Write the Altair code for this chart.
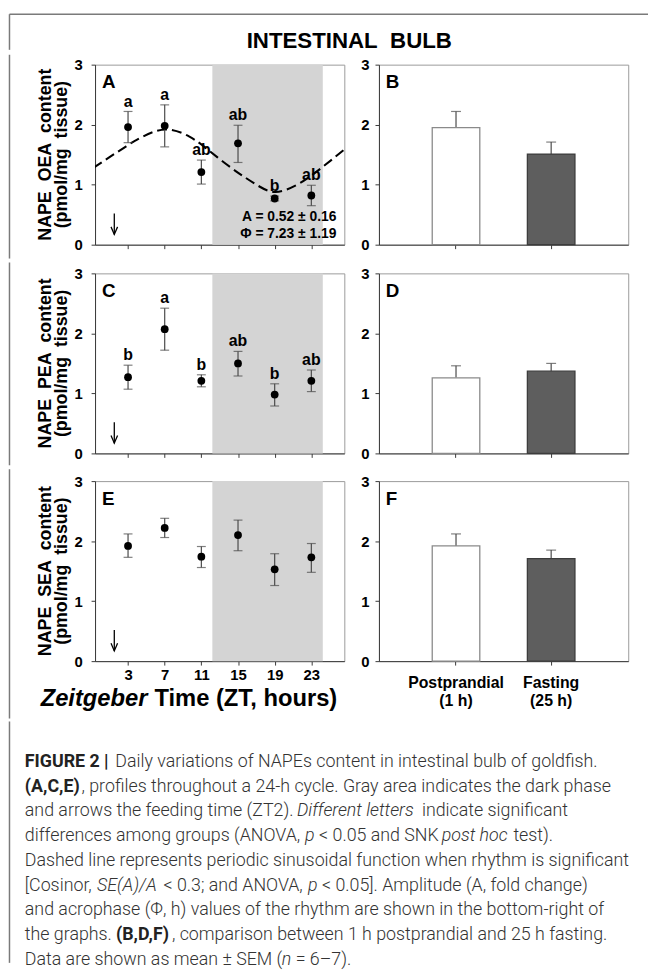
import altair as alt
import pandas as pd

# ---------------- data ----------------
zt_hours = [3, 7, 11, 15, 19, 23]
zt_ticks = [3, 7, 11, 15, 19, 23]
y_ticks = [0, 1, 2, 3]

oea_mean = [1.96, 1.98, 1.21, 1.69, 0.77, 0.82]
oea_upper = [2.22, 2.33, 1.41, 1.99, 0.81, 0.99]
oea_lower = [1.70, 1.63, 1.01, 1.37, 0.73, 0.65]
oea_letters = ["a", "a", "ab", "ab", "b", "ab"]

pea_mean = [1.27, 2.07, 1.21, 1.50, 0.98, 1.21]
pea_upper = [1.47, 2.42, 1.31, 1.70, 1.16, 1.39]
pea_lower = [1.07, 1.72, 1.11, 1.29, 0.79, 1.03]
pea_letters = ["b", "a", "b", "ab", "b", "ab"]

sea_mean = [1.92, 2.22, 1.74, 2.10, 1.53, 1.73]
sea_upper = [2.12, 2.38, 1.91, 2.35, 1.79, 1.96]
sea_lower = [1.73, 2.06, 1.56, 1.84, 1.26, 1.48]

# cosinor curve of panel A
cos_zt = [-0.8, 2.8, 4.6, 7.1, 9.7, 11.5, 13.3, 15.1, 16.9, 19.0, 21.2, 22.6, 24.1, 26.8]
cos_val = [1.28, 1.64, 1.80, 1.92, 1.80, 1.61, 1.39, 1.19, 1.01, 0.88, 0.98, 1.11, 1.28, 1.61]
cos_note = ["A = 0.52 \u00b1 0.16", "\u03a6 = 7.23 \u00b1 1.19"]

dark_start = [12.2]
dark_end = [24.25]
feed_zt = [1.5]
arrow_top = [0.52]
arrow_tip = [0.17]

groups = ["Postprandial|(1 h)", "Fasting|(25 h)"]
bar_oea = [1.95, 1.51]
bar_oea_up = [2.22, 1.71]
bar_pea = [1.26, 1.37]
bar_pea_up = [1.46, 1.50]
bar_sea = [1.92, 1.71]
bar_sea_up = [2.12, 1.85]

ytitles = {
    "A": ["NAPE\u00a0 OEA\u00a0 content", "(pmol/mg\u00a0 tissue)"],
    "C": ["NAPE\u00a0 PEA\u00a0 content", "(pmol/mg\u00a0 tissue)"],
    "E": ["NAPE\u00a0 SEA\u00a0 content", "(pmol/mg\u00a0 tissue)"],
}

caption_lines = [
    [("FIGURE 2 | ", "b"), ("Daily variations of NAPEs content in intestinal bulb of goldfish.", "n")],
    [("(A,C,E)", "b"), (", profiles throughout a 24-h cycle. Gray area indicates the dark phase", "n")],
    [("and arrows the feeding time (ZT2). ", "n"), ("Different letters", "i"), (" indicate significant", "n")],
    [("differences among groups (ANOVA, ", "n"), ("p", "i"), (" < 0.05 and SNK ", "n"),
     ("post hoc", "i"), (" test).", "n")],
    [("Dashed line represents periodic sinusoidal function when rhythm is significant", "n")],
    [("[Cosinor, ", "n"), ("SE(A)/A", "i"), (" < 0.3; and ANOVA, ", "n"), ("p", "i"),
     (" < 0.05]. Amplitude (A, fold change)", "n")],
    [("and acrophase (\u03a6, h) values of the rhythm are shown in the bottom-right of", "n")],
    [("the graphs. ", "n"), ("(B,D,F)", "b"), (", comparison between 1 h postprandial and 25 h fasting.", "n")],
    [("Data are shown as mean \u00b1 SEM (", "n"), ("n", "i"), (" = 6\u20137).", "n")],
]

# ---------------- style ----------------
FONT = "Liberation Sans, Arial, sans-serif"
CAPFONT = "Roboto, sans-serif"
CAPSIZE = 18
FRAME = "#7a7a7a"
AX = "#3a3a3a"
ERR = "#4a4a4a"
W, H = 252, 182
LEFT_RULE = -86.5
one = pd.DataFrame({"k": [0]})

# approximate Roboto advance widths (em) used to chain caption segments
_RW = {" ": .248, "a": .544, "b": .561, "c": .523, "d": .564, "e": .530, "f": .347, "g": .561,
       "h": .551, "i": .243, "j": .239, "k": .507, "l": .243, "m": .876, "n": .552, "o": .570,
       "p": .561, "q": .568, "r": .338, "s": .516, "t": .327, "u": .551, "v": .484, "w": .751,
       "x": .496, "y": .473, "z": .496, "A": .652, "B": .623, "C": .650, "D": .654, "E": .568,
       "F": .553, "G": .681, "H": .713, "I": .272, "J": .552, "K": .627, "L": .538, "M": .873,
       "N": .713, "O": .688, "P": .631, "Q": .688, "R": .616, "S": .593, "T": .597, "U": .649,
       "V": .636, "W": .887, "X": .627, "Y": .601, "Z": .599, "(": .342, ")": .348, "[": .265,
       "]": .265, ",": .196, ".": .263, "-": .276, "/": .412, "|": .243, "<": .508, "=": .549,
       ";": .212, "\u00b1": .544, "\u03a6": .760, "\u2013": .660}


def tw(s, bold=False):
    w = sum(_RW.get(ch, .562) for ch in s) * CAPSIZE
    return w * (1.04 if bold else 0.978)


def yaxis(pad):
    return alt.Axis(values=y_ticks, tickSize=4, labelFontSize=15, labelFont=FONT,
                    labelFontWeight="bold", labelColor="black", labelPadding=pad,
                    domainColor=AX, tickColor=AX, grid=False, title=None)


def time_panel(mean, upper, lower, letters, panel_letter, show_labels,
               rule_top, rule_bot, curve=False, xtitle=False):
    df = pd.DataFrame({"zt": zt_hours, "mean": mean, "upper": upper, "lower": lower,
                       "let": letters if letters else [""] * len(zt_hours)})
    xs = alt.Scale(domain=[-0.6, 26.6], nice=False, zero=False)
    ys = alt.Scale(domain=[0, 3], nice=False, zero=True)
    xax = alt.Axis(values=zt_ticks, tickSize=4, labels=show_labels, labelFontSize=15,
                   labelFont=FONT, labelFontWeight="bold", labelColor="black",
                   labelPadding=3, domainColor=AX, tickColor=AX, grid=False, title=None)
    yax = yaxis(9)

    def X(f):
        return alt.X(f, scale=xs, axis=xax)

    def Y(f):
        return alt.Y(f, scale=ys, axis=yax)

    band = alt.Chart(pd.DataFrame({"s": dark_start, "e": dark_end})).mark_rect(
        color="#d4d4d4").encode(x=X("s:Q"), x2="e:Q", y=alt.value(0), y2=alt.value(H))
    layers = [band]
    if curve:
        cdf = pd.DataFrame({"zt": cos_zt, "v": cos_val})
        layers.append(alt.Chart(cdf).mark_line(
            color="black", strokeWidth=2.1, strokeDash=[10, 5], interpolate="natural",
            clip=True).encode(x=X("zt:Q"), y=Y("v:Q")))
    layers += [
        alt.Chart(df).mark_rule(color=ERR, strokeWidth=1.2).encode(
            x=X("zt:Q"), y=Y("lower:Q"), y2="upper:Q"),
        alt.Chart(df).mark_tick(color=ERR, orient="horizontal", size=9, thickness=1.2).encode(
            x=X("zt:Q"), y=Y("upper:Q")),
        alt.Chart(df).mark_tick(color=ERR, orient="horizontal", size=9, thickness=1.2).encode(
            x=X("zt:Q"), y=Y("lower:Q")),
        alt.Chart(df).mark_circle(color="black", opacity=1, size=62).encode(
            x=X("zt:Q"), y=Y("mean:Q")),
    ]
    if letters:
        layers.append(alt.Chart(df).mark_text(
            font=FONT, fontSize=16, fontWeight="bold", baseline="alphabetic", dy=-5,
            color="black").encode(x=X("zt:Q"), y=Y("upper:Q"), text="let:N"))
    adf = pd.DataFrame({"zt": feed_zt, "top": arrow_top, "tip": arrow_tip})
    layers += [
        alt.Chart(adf).mark_rule(color="black", strokeWidth=1.3).encode(
            x=X("zt:Q"), y=Y("top:Q"), y2="tip:Q"),
        alt.Chart(adf).mark_point(shape="M-0.43,-1L0,0L0.43,-1", size=237, filled=False,
                                  color="black", strokeWidth=1.3, opacity=1).encode(
            x=X("zt:Q"), y=Y("tip:Q")),
        alt.Chart(one).mark_text(text=panel_letter, font=FONT, fontSize=19, fontWeight="bold",
                                 align="left", baseline="top", color="black").encode(
            x=alt.value(7), y=alt.value(9)),
        alt.Chart(one).mark_rule(color=FRAME, strokeWidth=1.5).encode(
            x=alt.value(LEFT_RULE), y=alt.value(rule_top), y2=alt.value(rule_bot)),
    ]
    # two-line y axis title drawn as rotated text
    for i, txt in enumerate(ytitles[panel_letter]):
        layers.append(alt.Chart(one).mark_text(
            text=txt, font=FONT, fontSize=18, fontWeight="bold", angle=270,
            align="center", baseline="middle", color="black").encode(
            x=alt.value(-50 + 17 * i), y=alt.value(H / 2)))
    if curve:
        for i, txt in enumerate(cos_note):
            layers.append(alt.Chart(one).mark_text(
                text=txt, font=FONT, fontSize=14, fontWeight="bold", align="right",
                baseline="alphabetic", color="black").encode(
                x=alt.value(244), y=alt.value(158 + 17.7 * i)))
    if xtitle:
        layers.append(alt.Chart(one).mark_text(
            text="Zeitgeber", font=FONT, fontSize=24, fontWeight="bold", fontStyle="italic",
            align="right", baseline="alphabetic", color="black").encode(
            x=alt.value(53), y=alt.value(227)))
        layers.append(alt.Chart(one).mark_text(
            text="Time (ZT, hours)", font=FONT, fontSize=24, fontWeight="bold",
            align="left", baseline="alphabetic", color="black").encode(
            x=alt.value(60), y=alt.value(227)))
    return alt.layer(*layers).properties(width=W, height=H)


def bar_panel(vals, ups, panel_letter, show_labels):
    df = pd.DataFrame({"g": groups, "v": vals, "u": ups})
    xs = alt.Scale(domain=groups, paddingInner=0.5, paddingOuter=0.56)
    ys = alt.Scale(domain=[0, 3], nice=False, zero=True)
    xax = alt.Axis(labels=show_labels, labelExpr="split(datum.label, '|')", labelAngle=0,
                   labelFontSize=16, labelFont=FONT, labelFontWeight="bold",
                   labelColor="black", labelPadding=10, labelLineHeight=18, tickSize=4,
                   domainColor=AX, tickColor=AX, grid=False, title=None)
    yax = yaxis(6)

    def X():
        return alt.X("g:N", sort=groups, scale=xs, axis=xax)

    def Y(f):
        return alt.Y(f, scale=ys, axis=yax)

    layers = [
        alt.Chart(df).mark_rule(color=ERR, strokeWidth=1.2).encode(
            x=X(), y=Y("v:Q"), y2="u:Q"),
        alt.Chart(df).mark_tick(color=ERR, orient="horizontal", size=10, thickness=1.2).encode(
            x=X(), y=Y("u:Q")),
        alt.Chart(df).mark_bar(strokeWidth=1.3).encode(
            x=X(), y=Y("v:Q"),
            fill=alt.Fill("g:N", scale=alt.Scale(domain=groups, range=["#ffffff", "#5e5e5e"]),
                          legend=None),
            stroke=alt.Stroke("g:N", scale=alt.Scale(domain=groups, range=["#8a8a8a", "#3c3c3c"]),
                              legend=None)),
        alt.Chart(one).mark_text(text=panel_letter, font=FONT, fontSize=19, fontWeight="bold",
                                 align="left", baseline="top", color="black").encode(
            x=alt.value(7), y=alt.value(9)),
    ]
    return alt.layer(*layers).properties(width=W, height=H)


SP = 15
row1 = alt.hconcat(
    time_panel(oea_mean, oea_upper, oea_lower, oea_letters, "A", False, -10, 196, curve=True),
    bar_panel(bar_oea, bar_oea_up, "B", False), spacing=SP)
row2 = alt.hconcat(
    time_panel(pea_mean, pea_upper, pea_lower, pea_letters, "C", False, -11, 194),
    bar_panel(bar_pea, bar_pea_up, "D", False), spacing=SP)
row3 = alt.hconcat(
    time_panel(sea_mean, sea_upper, sea_lower, None, "E", True, -12, 240, xtitle=True),
    bar_panel(bar_sea, bar_sea_up, "F", True), spacing=SP)

# ---------------- title (origin aligned with panel A's plot origin) ----------------
TW = 559
title_chart = alt.layer(
    alt.Chart(one).mark_rule(color=FRAME, strokeWidth=1.5).encode(
        x=alt.value(LEFT_RULE), x2=alt.value(TW), y=alt.value(0)),
    alt.Chart(one).mark_rule(color=FRAME, strokeWidth=1.5).encode(
        x=alt.value(LEFT_RULE), y=alt.value(0), y2=alt.value(36)),
    alt.Chart(one).mark_text(text="INTESTINAL\u00a0 BULB", font=FONT, fontSize=22.5,
                             fontWeight="bold", align="center", baseline="alphabetic",
                             color="black").encode(x=alt.value(257), y=alt.value(34)),
).properties(width=TW, height=36, view=alt.ViewBackground(strokeOpacity=0))

# ---------------- caption ----------------
CAP_H = 244
cap_layers = [
    alt.Chart(one).mark_rule(color=FRAME, strokeWidth=1.5).encode(
        x=alt.value(LEFT_RULE), y=alt.value(0), y2=alt.value(CAP_H)),
]
for i, line in enumerate(caption_lines):
    x = 24 - 95
    prev = ""
    for txt, st in line:
        bold = st == "b"
        lead = len(txt) - len(txt.lstrip())
        body = txt.strip()
        # small nudge when a styled run touches the previous run without a space
        if prev and lead == 0 and not prev.endswith(" "):
            x += 2
        kw = dict(text=body, font=CAPFONT, fontSize=CAPSIZE, align="left",
                  baseline="alphabetic", color="#333333")
        if bold:
            kw.update(fontWeight="bold", color="#222222")
        else:
            kw.update(fontWeight=300)
        if st == "i":
            kw.update(fontStyle="italic")
        cap_layers.append(alt.Chart(one).mark_text(**kw).encode(
            x=alt.value(x + tw(txt[:lead], bold)), y=alt.value(46 + 25 * i)))
        x += tw(txt, bold)
        prev = txt
caption_chart = alt.layer(*cap_layers).properties(
    width=TW, height=CAP_H, view=alt.ViewBackground(strokeOpacity=0))

chart = alt.vconcat(title_chart, row1, row2, row3, caption_chart, spacing=0).properties(
    padding=0).configure_view(stroke="#9b9b9b")

chart.save("out.html", embed_options={"renderer": "svg", "actions": False})
